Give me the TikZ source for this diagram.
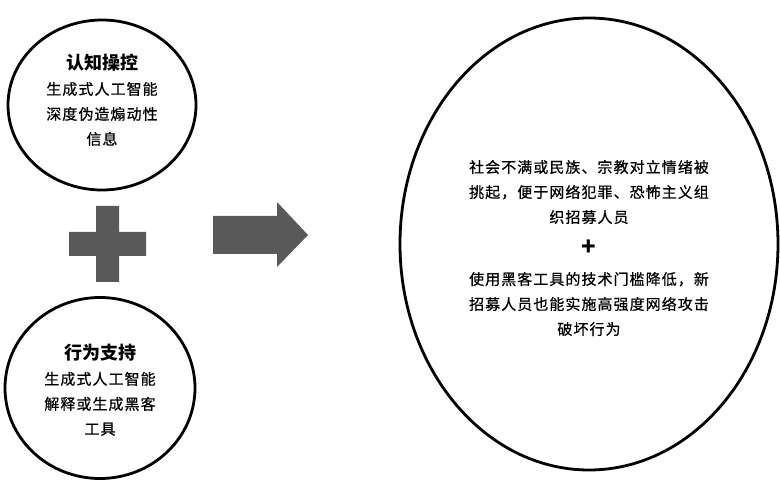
\documentclass[tikz,border=0pt]{standalone}
\usepackage{fontspec}
\newfontfamily\cjk[LetterSpace=7, FakeBold=0.6]{Noto Sans CJK SC}
\newfontfamily\cjkhead{Noto Sans CJK SC}
\usetikzlibrary{shapes.geometric}

\begin{document}
\begin{tikzpicture}[x=1pt, y=-1pt,
  bubble/.style={draw, line width=2.8pt, ellipse, inner sep=0pt},
  bubbletext/.style={align=center, inner sep=0pt, font=\fontsize{15}{25}\selectfont\cjk},
  block/.style={fill=black!65, draw=none}
]
  \useasboundingbox (0,0) rectangle (780,481);

  \node[bubble, minimum width=188, minimum height=170] (cog) at (102,105) {};
  \node[bubble, minimum width=190, minimum height=181] (act) at (100,388) {};
  \node[bubble, minimum width=378, minimum height=452] (res) at (589,244) {};

  \node[bubbletext] (cogtext) at (102,100)
    {{\fontsize{18}{25}\selectfont\cjkhead\bfseries 认知操控}\\生成式人工智能\\深度伪造煽动性\\信息};
  \node[bubbletext] (acttext) at (100,390)
    {{\fontsize{18}{25}\selectfont\cjkhead\bfseries 行为支持}\\生成式人工智能\\解释或生成黑客\\工具};
  \node[bubbletext] (restext) at (589,248)
    {社会不满或民族、宗教对立情绪被\\挑起，便于网络犯罪、恐怖主义组\\织招募人员\\[8pt]
     {\fontsize{24}{25}\selectfont\cjkhead\bfseries +}\\[4pt]
     使用黑客工具的技术门槛降低，新\\招募人员也能实施高强度网络攻击\\破坏行为};

  \fill[block] (96,206) -- (119,206) -- (119,232) -- (146,232) -- (146,256)
    -- (119,256) -- (119,282) -- (96,282) -- (96,256) -- (69,256) -- (69,232)
    -- (96,232) -- cycle;
  \fill[block] (213,216) -- (277,216) -- (277,202) -- (308,235) -- (277,267)
    -- (277,254) -- (213,254) -- cycle;
\end{tikzpicture}
\end{document}
